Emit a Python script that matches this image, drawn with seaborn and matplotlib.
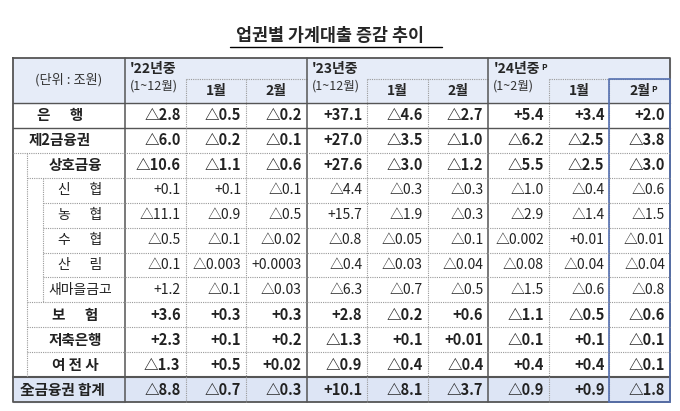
import numpy as np
import matplotlib.pyplot as plt
from matplotlib.colors import ListedColormap
import seaborn as sns

sns.set_theme(style="white")
plt.rcParams['font.family'] = ['Noto Sans CJK KR', 'DejaVu Sans']

TITLE = "업권별 가계대출 증감 추이"
ROW_LABELS = ["은      행", "제2금융권", "상호금융", "신      협", "농      협", "수      협",
              "산      림", "새마을금고", "보      험", "저축은행", "여 전 사", "全금융권 합계"]
ROW_BOLD = [True, True, True, False, False, False, False, False, True, True, True, True]
ROW_X = [60, 60, 75, 80, 80, 80, 80, 80, 75, 75, 75, 62]
VALUES = [
    ["△2.8", "△0.5", "△0.2", "+37.1", "△4.6", "△2.7", "+5.4", "+3.4", "+2.0"],
    ["△6.0", "△0.2", "△0.1", "+27.0", "△3.5", "△1.0", "△6.2", "△2.5", "△3.8"],
    ["△10.6", "△1.1", "△0.6", "+27.6", "△3.0", "△1.2", "△5.5", "△2.5", "△3.0"],
    ["+0.1", "+0.1", "△0.1", "△4.4", "△0.3", "△0.3", "△1.0", "△0.4", "△0.6"],
    ["△11.1", "△0.9", "△0.5", "+15.7", "△1.9", "△0.3", "△2.9", "△1.4", "△1.5"],
    ["△0.5", "△0.1", "△0.02", "△0.8", "△0.05", "△0.1", "△0.002", "+0.01", "△0.01"],
    ["△0.1", "△0.003", "+0.0003", "△0.4", "△0.03", "△0.04", "△0.08", "△0.04", "△0.04"],
    ["+1.2", "△0.1", "△0.03", "△6.3", "△0.7", "△0.5", "△1.5", "△0.6", "△0.8"],
    ["+3.6", "+0.3", "+0.3", "+2.8", "△0.2", "+0.6", "△1.1", "△0.5", "△0.6"],
    ["+2.3", "+0.1", "+0.2", "△1.3", "+0.1", "+0.01", "△0.1", "+0.1", "△0.1"],
    ["△1.3", "+0.5", "+0.02", "△0.9", "△0.4", "△0.4", "+0.4", "+0.4", "△0.1"],
    ["△8.8", "△0.7", "△0.3", "+10.1", "△8.1", "△3.7", "△0.9", "+0.9", "△1.8"],
]
YEARS = ["'22년중", "'23년중", "'24년중"]
YEAR_SUB = ["(1~12월)", "(1~12월)", "(1~2월)"]
MONTHS = ["1월", "2월"]

W, H = 680, 411
X0, X1 = 125, 670
TOP, HDR, BOT = 58, 103, 402
nrow, ncol = len(VALUES), len(VALUES[0])
cw = (X1 - X0) / ncol
rh = (BOT - HDR) / nrow

fig = plt.figure(figsize=(W / 100, H / 100), dpi=100)
fig.patch.set_facecolor("white")

# body backgrounds via heatmap (total row shaded)
shade = np.zeros((nrow, ncol))
shade[-1, :] = 1
hax = fig.add_axes([X0 / W, 1 - BOT / H, (X1 - X0) / W, (BOT - HDR) / H])
sns.heatmap(shade, cmap=ListedColormap(["white", "#dde5f5"]), cbar=False,
            ax=hax, vmin=0, vmax=1)
hax.set_axis_off()

ax = fig.add_axes([0, 0, 1, 1])
ax.patch.set_alpha(0)
ax.set_xlim(0, W)
ax.set_ylim(H, 0)
ax.set_axis_off()

# header + label column shading
ax.add_patch(plt.Rectangle((13, TOP), X1 - 13, HDR - TOP, color="#e6ecf8", zorder=0))
ax.add_patch(plt.Rectangle((13, BOT - rh), X0 - 13, rh, color="#dde5f5", zorder=0))

ax.text(W / 2 - 10, 36, TITLE, ha="center", va="center", fontsize=12.5, fontweight="bold")
ax.plot([230, 442], [47, 47], color="black", lw=1)

dark = "#555555"
dot = dict(color="#999999", lw=0.8, ls=(0, (1, 1)))

# outer frame and main lines
ax.plot([13, X1, X1, 13, 13], [TOP, TOP, BOT, BOT, TOP], color=dark, lw=1.3)
for y in [HDR, HDR + rh]:
    ax.plot([13, X1], [y, y], color=dark, lw=1)
ax.plot([13, X1], [BOT - rh] * 2, color=dark, lw=1.5)
month_texts = []
year_texts = []
for g in range(3):
    xg = X0 + 3 * g * cw
    ax.plot([xg, xg], [TOP, BOT], color=dark, lw=1.1)
    ax.plot([xg + cw, xg + 3 * cw], [79, 79], **dot)
    year_texts.append(ax.text(xg + 5, 69, YEARS[g], ha="left", va="center",
                              fontsize=10, fontweight="bold"))
    ax.text(xg + 5, 86, YEAR_SUB[g], ha="left", va="center", fontsize=9, color="#333333")
    for m in range(2):
        xm = xg + (m + 1) * cw
        ax.plot([xm, xm], [79, BOT], **dot)
        month_texts.append(ax.text(xm + cw / 2, 91, MONTHS[m], ha="center", va="center",
                                   fontsize=10, fontweight="bold"))
for t in (year_texts[-1], month_texts[-1]):
    ax.annotate("P", xy=(1, 0.95), xycoords=t, xytext=(1, 0), textcoords="offset points",
                fontsize=6, fontweight="bold", ha="left", va="top")
ax.text(69, 80, "(단위 : 조원)", ha="center", va="center", fontsize=9.5, color="#333333")

# highlighted latest column
xb = X0 + 8 * cw
ax.plot([xb, xb, X1, X1], [BOT, 79, 79, BOT], color="#5570b0", lw=1.2)
ax.plot([xb, X1], [BOT, BOT], color="#5570b0", lw=1.2)

# row lines and label-column boxes
for i in range(1, nrow - 1):
    y = HDR + (i + 1) * rh
    if i + 1 == nrow - 1:
        continue
    xs = 27 if 2 <= i <= 10 else 13
    if 3 <= i <= 6:
        xs = 43
    ax.plot([xs, X1], [y, y], **dot)
ax.plot([27, 27], [HDR + 2 * rh, BOT - rh], **dot)
ax.plot([43, 43], [HDR + 3 * rh, HDR + 8 * rh], **dot)

# text
for i in range(nrow):
    yc = HDR + (i + 0.5) * rh
    wt = "bold" if ROW_BOLD[i] else "normal"
    ax.text(ROW_X[i], yc, ROW_LABELS[i], ha="center", va="center", fontsize=10.5 if ROW_BOLD[i] else 10,
            fontweight=wt, color="#222222")
    for j in range(ncol):
        ax.text(X0 + (j + 1) * cw - 5, yc, VALUES[i][j], ha="right", va="center",
                fontsize=10.5 if ROW_BOLD[i] else 10, fontweight=wt, color="#222222")

fig.savefig("out.png", dpi=100)
